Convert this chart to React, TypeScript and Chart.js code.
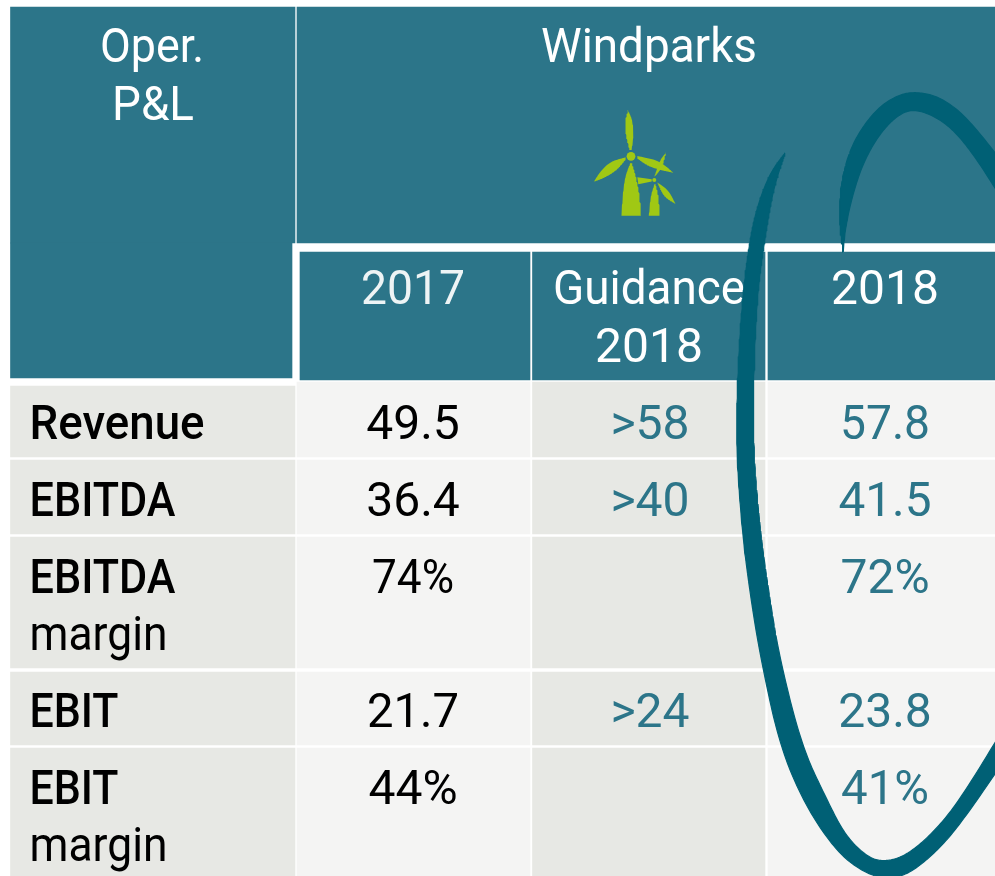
import React, { useEffect, useRef } from "react";
import { Chart, registerables } from "chart.js";

Chart.register(...registerables);

// ---- table content ----
const headerLeft = ["Oper.", "P&L"];
const headerGroup = "Windparks";
const columns = ["2017", "Guidance", "2018", "2018"];
const rowLabels = ["Revenue", "EBITDA", "EBITDA", "margin", "EBIT", "EBIT", "margin"];
const values2017 = ["49.5", "36.4", "74%", "21.7", "44%"];
const valuesGuidance = [">58", ">40", "", ">24", ""];
const values2018 = ["57.8", "41.5", "72%", "23.8", "41%"];

// ---- layout (page pixels, used as scale units) ----
const W = 995;
const H = 876;
const TEAL = "#2c7589";
const GRAY = "#e7e8e4";
const LIGHT = "#f4f4f3";
const SWOOSH = "#006075";
const GREEN = "#a0c814";

const bodyRows = [
  [386, 457],
  [460, 534],
  [537, 668],
  [672, 745],
  [748, 876],
];
const bodyTops = [382, 460, 537, 672, 748];
const cols = [
  [297, 530],
  [532.5, 765],
  [768, 995],
];
const bodyColors = [LIGHT, GRAY, LIGHT];

type Cell = [number, number, number, number, string];
const cells: Cell[] = [
  [10.5, 295, 7, 243, TEAL],
  [10.5, 292, 243, 378, TEAL],
  [297, 995, 7, 243, TEAL],
  [300, 530, 252, 380, TEAL],
  [532.5, 765, 252, 380, TEAL],
  [768, 995, 252, 380, TEAL],
];
bodyRows.forEach((r, i) => {
  cells.push([10.5, 295, r[0], r[1], GRAY]);
  cols.forEach((c, j) => cells.push([c[0], c[1], bodyTops[i], r[1], bodyColors[j]]));
});

const rowBaselines = [439, 516, 593, 727, 804];
const widths2017 = [95, 95, 82, 92, 90];
const widthsGuidance = [83, 83, 0, 81, 0];
const widths2018 = [90, 93, 90, 97, 88];
const labelBaselines = [439, 516, 593, 650, 727, 804, 861];
const labelWidths = [175, 146, 146, 138, 89, 89, 138];
const labelWeights = [500, 500, 500, 400, 500, 500, 400];

// Corner-cutting keeps each hand-read brush edge smooth; end points stay put.
function smoothEdge(pts: number[][], rounds = 4): number[][] {
  let cur = pts;
  for (let r = 0; r < rounds; r++) {
    const next: number[][] = [cur[0]];
    for (let i = 0; i < cur.length - 1; i++) {
      const [ax, ay] = cur[i];
      const [bx, by] = cur[i + 1];
      next.push([ax * 0.75 + bx * 0.25, ay * 0.75 + by * 0.25]);
      next.push([ax * 0.25 + bx * 0.75, ay * 0.25 + by * 0.75]);
    }
    next.push(cur[cur.length - 1]);
    cur = next;
  }
  return cur;
}
const outline = (edges: number[][][]) =>
  edges.flatMap((e) => (e.length > 2 ? smoothEdge(e) : e)).map(([x, y]) => ({ x, y }));

const swooshMain = outline([
  [
    [785, 153], [770, 173], [757, 207], [749, 245], [741.5, 307], [736.5, 400], [737, 460], [742.5, 535],
    [751, 600], [761, 660], [780, 747], [806, 807], [837, 852], [863, 872], [885, 879], [907, 875],
    [933, 855], [960, 825], [1010, 752],
  ],
  [
    [1010, 718], [960, 800], [933, 833], [907, 855], [885, 862], [867, 857], [845, 835], [827, 800],
    [802, 747], [780, 660], [770, 600], [760.7, 535], [754, 460], [753, 400], [756.7, 297], [765, 237],
    [773, 190], [785, 153],
  ],
]);
const swooshTop = outline([
  [
    [843, 252], [839, 220], [841, 180], [853, 141], [877, 108], [900, 94], [918, 92], [940, 97],
    [967, 117], [1010, 172],
  ],
  [
    [1010, 212], [973, 153], [947, 123], [918, 109], [900, 113], [880, 133], [863, 163], [852, 197],
    [845, 230], [843, 252],
  ],
]);

const iconShapes = [
  [[[628, 110], [632.5, 120], [633.8, 133], [631.5, 150]], [[629.5, 150], [625.3, 133], [625.3, 120], [628, 110]]],
  [[[625.7, 157.3], [610, 161.7], [600, 172], [593.7, 181.7]], [[593.7, 181.7], [604, 178], [616, 171], [625.7, 159.5]]],
  [[[637.3, 156], [656.7, 160], [667, 167], [673.3, 172.7]], [[673.3, 172.7], [660, 170], [648, 166], [637.3, 158.5]]],
  [[[630, 163.3], [625, 176.7], [622.5, 195], [621.3, 215.7]], [[641, 215.7], [639.5, 195], [636, 176.7], [632, 163.3]]],
  [[[637.3, 177.3], [651.7, 179.3]], [[651.7, 181.5], [638.3, 184.3]]],
  [[[654.3, 184.3], [650.5, 196], [648.7, 215.7]], [[659.7, 215.7], [658.5, 196], [655.5, 184.3]]],
  [[[666, 152.3], [660, 160], [654, 177.3]], [[654, 177.3], [662, 168], [666, 152.3]]],
  [[[657.3, 182.3], [668.3, 190], [675.7, 204]], [[675.7, 204], [664, 197], [657.3, 182.3]]],
];
const hubs = [
  { x: 631, y: 156.3, r: 4.4 },
  { x: 654.3, y: 180, r: 2 },
];

const FONT = "Roboto, 'Liberation Sans', sans-serif";

type T = { t: string; x: number; y: number; w: number; c: string; wt: number; a: CanvasTextAlign };

function buildTexts(): T[] {
  const out: T[] = [
    { t: headerLeft[0], x: 152, y: 62, w: 104, c: "#fff", wt: 450, a: "center" },
    { t: headerLeft[1], x: 153, y: 120, w: 82, c: "#fff", wt: 450, a: "center" },
    { t: headerGroup, x: 649, y: 62, w: 216, c: "#fff", wt: 450, a: "center" },
    { t: columns[0], x: 413, y: 304, w: 104, c: "#eef4f5", wt: 400, a: "center" },
    { t: columns[1], x: 649, y: 304, w: 192, c: "#fff", wt: 450, a: "center" },
    { t: columns[2], x: 649, y: 362, w: 110, c: "#fff", wt: 450, a: "center" },
    { t: columns[3], x: 885, y: 304, w: 110, c: "#fff", wt: 450, a: "center" },
  ];
  rowLabels.forEach((t, i) =>
    out.push({ t, x: 29.5, y: labelBaselines[i], w: labelWidths[i], c: "#000", wt: labelWeights[i], a: "left" })
  );
  rowBaselines.forEach((y, i) => {
    out.push({ t: values2017[i], x: 413, y, w: widths2017[i], c: "#000", wt: 450, a: "center" });
    if (valuesGuidance[i]) out.push({ t: valuesGuidance[i], x: 650, y, w: widthsGuidance[i], c: TEAL, wt: 450, a: "center" });
    out.push({ t: values2018[i], x: 885, y, w: widths2018[i], c: TEAL, wt: 450, a: "center" });
  });
  return out;
}

const tablePlugin = {
  id: "tableText",
  afterDatasetDraw(chart: any, args: any) {
    if (chart.data.datasets[args.index].label !== "hubs") return;
    const { ctx, scales } = chart;
    ctx.save();
    ctx.textBaseline = "alphabetic";
    buildTexts().forEach((d) => {
      ctx.font = `${d.wt} 48px ${FONT}`;
      ctx.fillStyle = d.c;
      ctx.textAlign = d.a;
      const natural = ctx.measureText(d.t).width;
      const px = scales.x.getPixelForValue(d.x);
      const py = scales.y.getPixelForValue(d.y);
      ctx.fillText(d.t, px, py, Math.min(natural, d.w));
    });
    ctx.restore();
  },
};

export default function App() {
  const ref = useRef<HTMLCanvasElement>(null);
  useEffect(() => {
    if (!ref.current) return;
    const shapeDs = (data: any[], color: string, label: string, order: number, borderWidth = 0) => ({
      type: "line" as const,
      label,
      data,
      order,
      fill: "shape",
      backgroundColor: color,
      borderColor: color,
      borderWidth,
      pointRadius: 0,
      tension: 0,
    });
    const datasets: any[] = [
      ...cells.map((c, i) => ({
        type: "bar" as const,
        label: `cell${i}`,
        data: [{ x: (c[0] + c[1]) / 2, y: [c[2], c[3]] }],
        backgroundColor: c[4],
        barThickness: c[1] - c[0],
        grouped: false,
        borderWidth: 0,
        order: 100 + (cells.length - i),
      })),
      ...iconShapes.map((s, i) => shapeDs(outline(s), GREEN, `icon${i}`, 10 + i)),
      {
        type: "line" as const,
        label: "hubs",
        data: hubs.map((h) => ({ x: h.x, y: h.y })),
        order: 5,
        showLine: false,
        pointRadius: hubs.map((h) => h.r),
        pointBackgroundColor: GREEN,
        pointBorderWidth: 0,
      },
      shapeDs(swooshMain, SWOOSH, "swooshMain", 2, 1.2),
      shapeDs(swooshTop, SWOOSH, "swooshTop", 1, 1.2),
    ];
    const chart = new Chart(ref.current, {
      type: "bar",
      data: { datasets },
      options: {
        animation: false,
        responsive: false,
        layout: { padding: 0, autoPadding: false },
        events: [],
        scales: {
          x: { type: "linear", min: 0, max: W, display: false, offset: false },
          y: { type: "linear", min: 0, max: H, reverse: true, display: false },
        },
        plugins: { legend: { display: false }, tooltip: { enabled: false }, title: { display: false } },
      },
      plugins: [tablePlugin],
    } as any);
    return () => chart.destroy();
  }, []);
  return (
    <div style={{ position: "absolute", left: 0, top: 0, width: W, height: H, overflow: "hidden", background: "#fff" }}>
      <canvas ref={ref} width={W} height={H} style={{ display: "block" }} />
    </div>
  );
}
